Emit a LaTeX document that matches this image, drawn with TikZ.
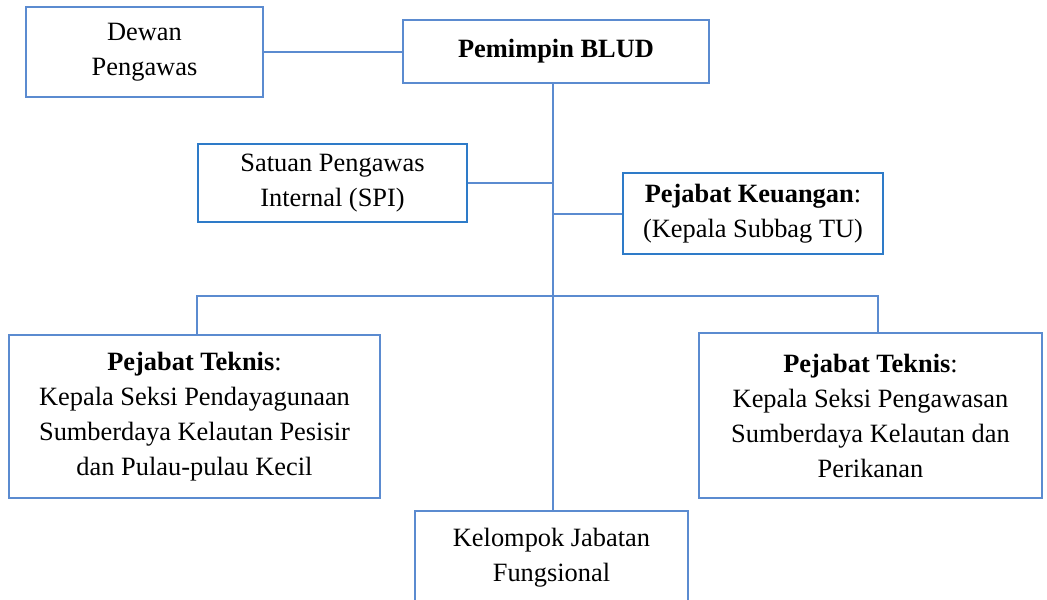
\documentclass[tikz,border=0pt]{standalone}
\usepackage{fontspec}
\setmainfont{Liberation Serif}
\usepackage{tikz}
\definecolor{orgblue}{HTML}{5B8BD0}
\definecolor{spiblue}{HTML}{2E7BC8}

\begin{document}
\begin{tikzpicture}[x=0.5pt,y=-0.5pt,
  unit/.style={draw=orgblue,line width=1pt,align=center,inner sep=0pt,
    font=\fontsize{13.2}{17.5}\selectfont},
  link/.style={draw=orgblue,line width=1pt}]
 \useasboundingbox (0,0) rectangle (1047,599);

 \draw (144.5,52) node[unit,minimum width=118.5pt,minimum height=45pt] (dewan) {Dewan\\Pengawas};
 \draw (556,51.5) node[unit,minimum width=153pt,minimum height=31.5pt] (pem) {\textbf{Pemimpin BLUD}};
 \draw (332.5,183) node[unit,draw=spiblue,minimum width=134.5pt,minimum height=39pt] (spi) {Satuan Pengawas\\Internal (SPI)};
 \draw (753,213.5) node[unit,draw=spiblue,minimum width=130pt,minimum height=40.5pt] (keu) {\textbf{Pejabat Keuangan}:\\(Kepala Subbag TU)};
 \draw (194.5,416.5) node[unit,minimum width=185.5pt,minimum height=81.5pt] (tekl) {\textbf{Pejabat Teknis}:\\Kepala Seksi Pendayagunaan\\Sumberdaya Kelautan Pesisir\\dan Pulau-pulau Kecil};
 \draw (870.5,415.5) node[unit,minimum width=171.5pt,minimum height=82.5pt] (tekr) {\textbf{Pejabat Teknis}:\\Kepala Seksi Pengawasan\\Sumberdaya Kelautan dan\\Perikanan};
 \draw (551.5,557.5) node[unit,minimum width=136.5pt,minimum height=46.5pt] (kel) {Kelompok Jabatan\\Fungsional};
 \coordinate (trunk) at (553,296);

 \path[link] (dewan.east) -- (dewan.east -| pem.west);
 \path[link] (pem.south -| trunk) -- (kel.north -| trunk);
 \path[link] (spi.east) -- (spi.east -| trunk);
 \path[link] (keu.west) -- (keu.west -| trunk);
 \path[link] ([xshift=1.25pt]tekl.north) |- (trunk) -| ([xshift=3.75pt]tekr.north);

\end{tikzpicture}
\end{document}
